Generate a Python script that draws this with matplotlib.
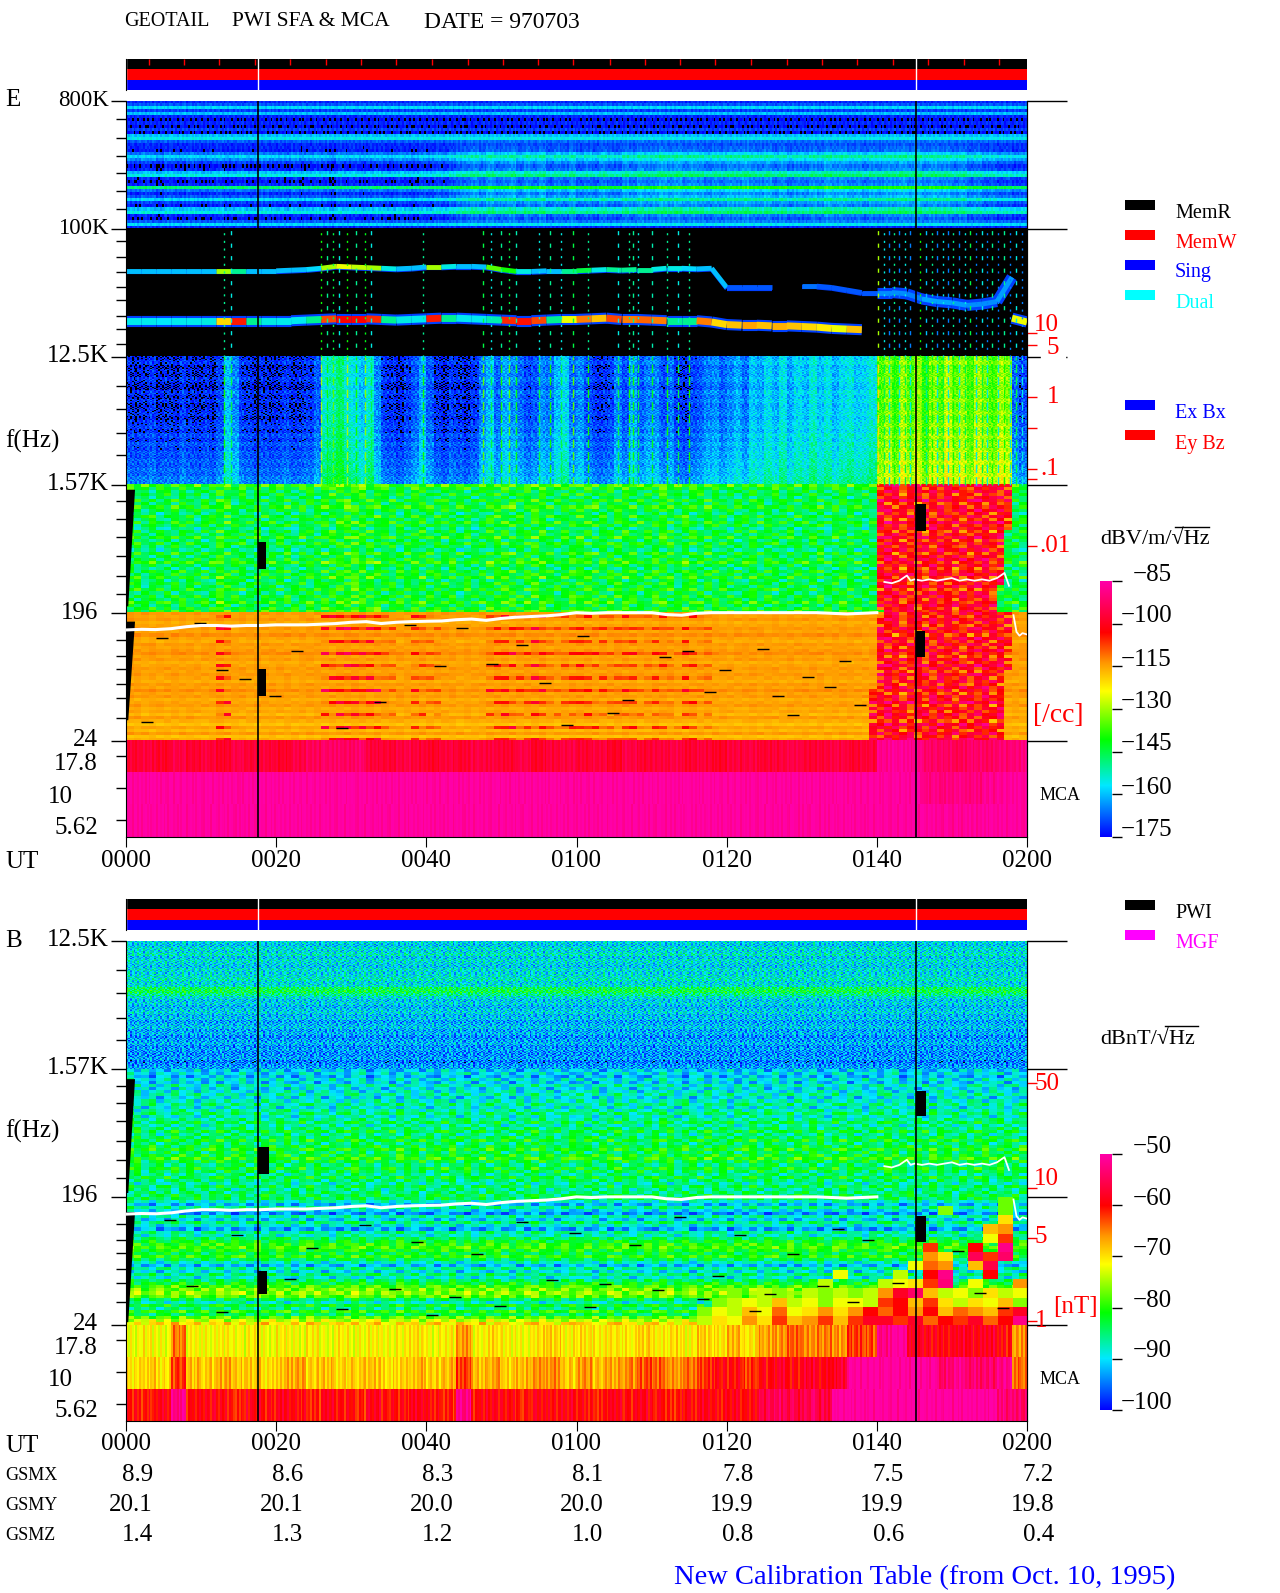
import numpy as np
import matplotlib
matplotlib.use("Agg")
import matplotlib.pyplot as plt
from matplotlib.collections import LineCollection
from matplotlib.colors import LinearSegmentedColormap

plt.rcParams['font.family'] = ['Liberation Serif', 'DejaVu Sans']
n = np.nan

W, H = 1280, 1593
PLOT_L, PLOT_R = 126, 1027
FS = 18

# time axis
time_ticks = [0, 20, 40, 60, 80, 100, 120]
time_labels = ['0000', '0020', '0040', '0100', '0120', '0140', '0200']
gsmx = ['8.9', '8.6', '8.3', '8.1', '7.8', '7.5', '7.2']
gsmy = ['20.1', '20.1', '20.0', '20.0', '19.9', '19.9', '19.8']
gsmz = ['1.4', '1.3', '1.2', '1.0', '0.8', '0.6', '0.4']
gap_times = [0, 17.6, 105.2]

# frequency ticks, in decades of 8 above 24 Hz
minor_upper = [4.852, 4.71, 4.564, 4.436, 4.29, 4.15, 3.9, 3.774, 3.662, 3.543, 3.44, 3.32, 3.216, 3.1]
minor_lower = [2.774, 2.592, 2.4, 2.23, 1.87, 1.73, 1.59, 1.44, 1.29, 1.145, .79, .66, .56, .44, .33, .18,
               -.12, -.37, -.617]
density_e = [3.185, 3.09, 2.686, 2.446, 2.125, 2.045, 1.523]
density_b = [1.89, 1.067, .677, .03]

# small scale mottling, estimated by eye
mott_a = [3,-4,6,-2,1,-6,4,0,-3,7,-5,2,-1,5,-7,3,0,-4,6,-2,4,-6,1,3,-5,7,-1,-3,5,-4,2,6,-7,0,4,-2,-5,3,1,-6,
          5,-3,7,-1,2,-4,0,6,-5,3,-2,4,-7,1,5,-3,0,6,-4,2]
mott_b = [-5,2,0,7,-3,4,-6,1,5,-2,-4,6,3,-7,1,4,-1,-5,2,7,-3,0,5,-6,2,-4,6,1,-2,-5,3,-1,4,7,-6,2,0,-3,5,-7,
          1,4,-2,6,-4,0,3,-5,7,-1,2,-6,4,0,-3,5,-2,1,-5,3]
mott_c = [1,6,-3,-5,4,0,2,-7,3,6,-1,-4,5,0,-2,7,-6,3,1,-3,-5,4,6,-1,0,-7,3,5,-4,2,-6,1,4,-2,7,-3,0,5,-5,2,
          -1,6,-4,3,-6,1,7,-2,0,-5,4,-3,6,2,-7,0,3,-1,5,-4]

# E panel, 800K-100K
hf_rows = [-172,-168,-158,-170,-160,-172,-174,-172,-174,-170,-174,-160,-156,-168,-172,-172,-173,-166,-158,-164,-170,
           -174,-172,-160,-155,-172,-174,-172,-148,-166,-172,-168,-158,-170,-173,-160,-155,-172,-174,-168,-158,-172]
hf_fade = [0,0,0,0,0,0,0,0,0,0,0,0,0,.2,.4,.6,.8,1,1,1,1,1,1,1,1,1,1,1,1,1,1,1,1,1,1,1,1,.9,.8,.4,.2,0]
hf_lift = [0,-1,1,0,-2,1,0,-1,1,0,-1,0,1,-1,0,1,-1,0,1,0,0,-1,1,-1,0,1,0,-2,1,0,1,-1,0,1,0,-1,1,0,-1,1,
           0,2,1,3,5,6,8,5,9,6,7,9,5,8,6,9,4,7,5,8,4,6,4,7,5,4,8,6,9,7,8,10,8,10,7,9,8,6,8,7,
           9,8,10,8,7,9,6,8,5,7,6,8,7,10,8,9,7,8,6,8,7,9,8,10,8,10,7,9,8,8,6,8,4,6,3,4,2,3,1,2]

# E panel, 100K-12.5K, emission lines every 2 min
line_t = list(range(0, 122, 2))
upper_pos = [3.67,3.67,3.67,3.67,3.67,3.67,3.67,3.67,3.67,3.67,3.67,3.675,3.68,3.69,3.705,3.7,3.695,3.69,3.685,3.69,
             3.7,3.7,3.705,3.705,3.7,3.68,3.665,3.665,3.67,3.67,3.67,3.675,3.68,3.675,3.68,3.68,3.69,3.69,3.685,3.69,
             3.54,3.54,3.54,3.54,n,3.55,3.55,3.54,3.52,3.5,3.5,3.5,3.49,3.45,3.43,3.42,3.4,3.41,3.43,3.62,n]
upper_db = [-160,-160,-160,-160,-160,-160,-130,-150,-160,-160,-160,-160,-158,-130,-125,-128,-130,-155,-160,-160,
            -130,-155,-160,-160,-135,-140,-155,-160,-160,-150,-145,-155,-150,-150,-150,-155,-155,-158,-160,-160,
            -168,-168,-168,-168,n,-166,-168,-168,-168,-168,-164,-164,-165,-162,-162,-163,-164,-164,-163,-156,n]
lower_pos = [3.28,3.28,3.28,3.28,3.28,3.28,3.28,3.28,3.28,3.28,3.28,3.28,3.285,3.29,3.295,3.295,3.295,3.29,3.285,3.29,
             3.295,3.3,3.3,3.295,3.29,3.285,3.28,3.28,3.285,3.29,3.29,3.295,3.3,3.29,3.29,3.285,3.28,3.28,3.28,3.27,
             3.25,3.245,3.245,3.24,3.24,3.235,3.23,3.22,3.215,3.21,n,n,n,n,n,n,n,n,n,3.3,3.27]
lower_db = [-156,-156,-157,-156,-156,-155,-120,-105,-150,-155,-156,-156,-150,-108,-103,-103,-106,-150,-155,-156,
            -105,-150,-156,-156,-152,-106,-104,-108,-150,-125,-112,-118,-108,-112,-110,-112,-150,-150,-112,-120,
            -118,-115,-118,-116,-118,-120,-122,-125,-118,-125,n,n,n,n,n,n,n,n,n,-125,-130]

# vertical bursts through the 100K-12.5K band
burst_t = [13,14,26,26.8,27.6,28.4,29.5,30.6,31.8,32.6,39.5,47.5,48.6,50,51,52,55,56.5,58,59.5,61.5,65.5,67,67.5,68.2,
           70,72,73.5,75,100.2,101,101.6,102.3,103,103.7,104.4,105.8,106.6,107.3,108,108.8,109.5,110.1,111,111.7,
           112.4,113.2,114,114.7,115.4,116.1,117,117.8,118.6,119.3]
burst_db = [-150,-155,-140,-150,-145,-155,-140,-150,-142,-155,-150,-145,-155,-150,-145,-152,-155,-150,-155,-145,-150,
            -155,-150,-150,-155,-152,-150,-155,-150,-130,-155,-165,-150,-165,-155,-165,-140,-160,-150,-165,-155,-165,
            -150,-165,-155,-145,-165,-155,-165,-150,-165,-150,-165,-155,-165]

# E panel, 12.5K-1.57K
low_rows = [-3,-1,-4,-2,-3,-1,-3,-4,-1,-3,-1,-3,-2,-1,-3,-1,0,-2,1,-1,2,0,2,1,3,2,4,3,5,5]
low_activity = [-170,-171,-170,-169,-171,-170,-171,-169,-170,-171,-170,-171,-168,-158,-162,-169,-170,-171,-170,-171,
                -170,-169,-171,-170,-169,-166,-152,-150,-146,-152,-154,-158,-152,-162,-169,-170,-171,-169,-166,-160,
                -166,-170,-171,-169,-170,-171,-169,-163,-158,-165,-160,-162,-164,-168,-166,-162,-164,-158,-155,-165,
                -162,-167,-169,-170,-168,-163,-167,-160,-166,-163,-162,-167,-164,-169,-170,-168,-166,-163,-162,-165,
                -162,-160,-164,-157,-160,-155,-159,-154,-160,-155,-158,-153,-157,-154,-159,-155,-153,-157,-155,-153,
                -134,-130,-136,-128,-134,-130,-137,-130,-133,-127,-132,-129,-135,-128,-131,-134,-128,-130,-165,-168]

# E panel, 1.57K-196 and 196-24
green_rows = [-138,-142,-146,-144,-148,-143,-146,-141,-145,-149,-143,-147,-142,-145,-150,-144,-146,-141,-148,-143,-146,
              -150,-142,-147,-144,-140,-146,-149,-143,-145,-141,-148,-144,-146,-142,-147,-143,-145,-140,-146,-143,-141]
orange_rows = [-114,-115,-114,-116,-115,-114,-115,-113,-115,-116,-114,-115,-114,-113,-115,-114,-116,-115,-114,-115,-114,
               -115,-116,-114,-115,-113,-115,-114,-116,-115,-114,-116,-115,-117,-114,-116,-118,-115,-117,-114,-118,-116]
red_rows = [-98,-104,-100,-106,-102,-97,-108,-103,-99,-105,-101,-107,-96,-104,-100,-108,-103,-98,-106,-101,-104,
            -99,-107,-102,-97,-105,-100,-108,-103,-99,-106,-101,-104,-98,-108,-102,-100,-106,-103,-99,-105,-101]
orange_burst = [0,0,0,0,0,0,10,0,0,0,0,0,0,12,14,10,12,4,0,8,4,0,0,0,8,10,6,10,4,6,8,6,4,8,4,6,3,8,3,0,
                0,0,0,0,0,0,0,0,0,0,0,0,0,0,0,0,0,0,0,0]

# E panel MCA channels, every 2 min
e_mca1 = [-98,-97,-99,-96,-98,-97,-99,-96,-98,-97,-99,-96,-94,-92,-93,-92,-97,-98,-96,-97,-99,-97,-98,-96,-97,-98,
          -96,-99,-97,-96,-98,-97,-99,-96,-98,-97,-96,-98,-97,-99,-97,-96,-98,-97,-96,-98,-97,-96,-98,-97,-88,-87,
          -88,-92,-93,-94,-92,-93,-91,-90]
e_mca2 = [-86,-86,-86,-86,-86,-86,-86,-86,-86,-86,-86,-86,-86,-86,-86,-86,-86,-86,-86,-86,-86,-86,-86,-86,-86,-86,
          -86,-86,-86,-86,-86,-86,-86,-86,-86,-86,-86,-86,-86,-86,-86,-86,-86,-86,-86,-86,-86,-86,-86,-86,-86,-86,
          -86,-89,-90,-89,-90,-88,-87,-86]
e_mca3 = [-86,-86,-86,-86,-86,-86,-86,-86,-86,-86,-86,-86,-86,-86,-86,-86,-86,-86,-86,-86,-86,-86,-86,-86,-86,-86,
          -86,-86,-86,-86,-86,-86,-86,-86,-86,-86,-86,-86,-86,-86,-86,-86,-86,-86,-86,-86,-86,-86,-86,-86,-86,-86,
          -86,-86,-87,-87,-87,-86,-86,-86]

# B panel
b_hf_rows = [-90,-91,-89,-90,-88,-91,-89,-90,-91,-89,-90,-89,-88,-90,-89,-84,-83,-86,-89,-91,-90,-92,-91,-90,-92,
             -91,-93,-92,-91,-93,-92,-94,-93,-92,-94,-93,-94,-94,-93,-95,-94,-93]
b_mid_rows = [-91,-90,-92,-89,-91,-88,-90,-89,-87,-90,-88,-86,-89,-87,-85,-88,-86,-84,-87,-85,-83,-86,-84,-82,-85,
              -83,-81,-84,-82,-80,-83,-85,-82,-84,-86,-83,-85,-87,-84,-86,-85,-84]
b_low_rows = [-84,-88,-92,-86,-90,-94,-87,-91,-85,-89,-93,-86,-88,-84,-82,-80,-79,-81,-83,-80,-84,-88,-92,-86,-90,-85,
              -89,-84,-82,-79,-77,-76,-78,-84,-88,-82,-86,-80,-84,-78,-74,-70]
b_hot = [[n]*28 + [-77, n],
         [n]*24 + [-76, n, n, n, -77, n],
         [n]*28 + [-70, n],
         [n]*27 + [-68, -66, n],
         [n]*27 + [-72, -62, n],
         [n]*23 + [-62, n, n, -60, n, -52, n],
         [n]*23 + [-66, -70, n, -55, -62, -54, n],
         [n]*22 + [-72, -64, -66, n, -68, -56, n, n],
         [n]*17 + [-72, n, n, n, -74, n, -60, -52, n, n, -60, n, n],
         [n]*16 + [-74, n, n, n, -74, -72, -70, -62, -53, n, -72, n, n, -66],
         [n]*10 + [-76,n,-74,-76,n,-74,-76,-74,-76,-74,-66,-58,-54,-68,-74,-72,-76,-70,-74,-72],
         [n]*9 + [-76,-74,-72,-74,-68,-74,-72,-76,-72,-72,-74,-62,-60,-68,-62,-70,-74,-70,-72,-68,-76],
         [n]*8 + [-76,-72,-74,-68,-72,-64,-72,-70,-66,-70,-66,-60,-64,-60,-66,-60,-68,-64,-66,-68,-62,-58],
         [n]*8 + [-74,-70,-72,-66,-70,-62,-68,-66,-62,-68,-62,-58,-58,-62,-58,-64,-60,-62,-58,-64,-60,-52]]
b_mca1 = [-72,-71,-72,-65,-71,-72,-71,-72,-71,-72,-71,-72,-71,-72,-71,-72,-71,-72,-71,-70,-72,-71,-66,-71,-70,-71,-72,
          -70,-69,-71,-70,-71,-70,-71,-69,-71,-70,-71,-69,-70,-68,-70,-67,-66,-64,-66,-65,-66,-62,-63,-52,-50,-58,-59,
          -60,-58,-59,-58,-60,-66]
b_mca2 = [-70,-69,-70,-62,-68,-69,-67,-68,-69,-70,-68,-67,-69,-68,-70,-69,-68,-70,-69,-68,-69,-68,-62,-68,-67,-69,-68,
          -66,-66,-69,-66,-68,-67,-66,-63,-64,-66,-65,-62,-60,-60,-62,-60,-58,-60,-58,-59,-58,-50,-50,-50,-50,-50,-50,
          -54,-52,-54,-54,-52,-64]
b_mca3 = [-60,-61,-59,-52,-60,-59,-60,-61,-59,-60,-59,-60,-61,-59,-60,-61,-59,-60,-60,-59,-60,-61,-52,-60,-59,-60,-61,
          -59,-60,-59,-60,-61,-59,-60,-59,-60,-61,-60,-59,-60,-59,-60,-56,-55,-56,-55,-56,-50,-50,-50,-50,-50,-50,-50,
          -50,-50,-50,-50,-53,-54]

# white trace, same on both panels
trace_t = list(range(0, 102, 2))
trace_pos = [.865,.87,.868,.875,.89,.9,.9,.895,.9,.9,.905,.905,.905,.91,.915,.925,.93,.915,.925,.93,.933,.935,.945,.95,
             .94,.955,.965,.97,.975,.985,1.0,.995,1.0,1.0,1.0,1.0,.985,.98,.995,1.0,1.0,1.0,1.0,1.0,1.0,1.0,1.0,.995,
             .99,.995,1.0]
trace2_t = [101,102,103,104,104.5,105,106,107,108,109,110,111,112,113,114,115,116,117,117.6]
trace2_pos = [1.24,1.23,1.25,1.29,1.25,1.26,1.25,1.26,1.25,1.26,1.27,1.25,1.26,1.25,1.26,1.25,1.27,1.31,1.21]
trace3_t = [118.2, 118.6, 119, 119.4, 120]
trace3_pos = [.98, .85, .82, .84, .83]

# black data gaps, time span and y span
gap_e = [(17.6, 18.7, 1.34, 1.55), (17.6, 18.6, .35, .56), (105.2, 106.5, 1.64, 1.85), (105.2, 106.4, .65, .86)]
gap_b = [(17.6, 19.0, 1.18, 1.39), (17.6, 18.8, .24, .42), (105.2, 106.6, 1.63, 1.83), (105.2, 106.5, .65, .85)]
dash_e_t = [4,12,22,33,37,48,55,60,64,71,77,84,90,93,97,2,9,19,28,41,52,66,79,88,95,15,44,58,74,86]
dash_e_y = [.8,.55,.7,.3,.9,.6,.45,.82,.22,.65,.38,.72,.5,.42,.28,.15,.92,.35,.1,.58,.75,.32,.55,.2,.62,.48,.88,.12,.7,.35]
dash_b_t = [5,14,24,31,38,46,52,59,67,73,81,88,94,98,110,8,21,35,43,56,63,70,78,85,92,102,113,28,49,76,96,12,40,61,
            83,116]
dash_b_y = [.82,.7,.6,.78,.65,.55,.8,.72,.62,.84,.7,.55,.75,.66,.58,.3,.36,.28,.22,.35,.32,.27,.38,.24,.3,.33,.25,.12,
            .15,.2,.18,.1,.08,.14,.11,.13]

status_ticks = [3.0,7.7,12.4,17.2,21.9,26.6,31.3,36.0,40.8,45.5,50.2,54.9,59.6,64.4,69.1,73.8,78.5,83.2,88.0,92.7,
                97.4,102.1,106.8,111.6,116.3]
status_colors = ['#0000ff', '#ff0000', '#000000']

cmap = LinearSegmentedColormap.from_list('pwi', [(0, '#0000ff'), (.2, '#00e8ff'), (.38, '#00ff00'), (.57, '#ffff00'),
                                                 (.68, '#ff9800'), (.8, '#ff0000'), (1, '#ff00a8')])
cmap.set_under('black')
cmap.set_bad((0, 0, 0, 0))


def px_axes(left, top, right, bottom):
    return fig.add_axes([left / W, 1 - bottom / H, (right - left) / W, (bottom - top) / H])


def texture(n_rows, k):
    profiles = [mott_a, mott_b, mott_c]
    out = []
    for i in range(n_rows):
        out.append(np.concatenate([np.roll(profiles[i % 3], i * i * 7 + i * 5 + j * 11) for j in range(k)]))
    return np.array(out, dtype=float)


def band(rows, k, scale):
    rows = np.array(rows, dtype=float)
    return rows[:, None] + scale * texture(len(rows), k)


def show(ax, z, top, bottom, vmin, vmax, t0=0, t1=120):
    ax.imshow(z, extent=(t0, t1, bottom, top), aspect='auto', cmap=cmap, vmin=vmin, vmax=vmax,
              interpolation='nearest', origin='upper')


def block(rows, left, right):
    z = band(rows, 2, 1.5)
    for i in range(z.shape[0]):
        f = i / (z.shape[0] - 1)
        a, b = left[0] + (left[1] - left[0]) * f, right[0] + (right[1] - right[0]) * f
        z[i, :int(a)] = n
        z[i, int(b):] = n
    return z


def mca(ax, channels, vmin, vmax, scale):
    for i, ch in enumerate(channels):
        z = np.repeat(np.array(ch, dtype=float), 8)[None, :] + scale * texture(i + 1, 8)[i:i + 1]
        show(ax, z, -.25 * i, -.25 * (i + 1), vmin, vmax)


def line_band(ax, t, pos, db, lw, vmin, vmax):
    pts = np.column_stack([t, pos])
    segs = np.stack([pts[:-1], pts[1:]], axis=1)
    lc = LineCollection(segs, cmap=cmap, linewidths=lw, capstyle='butt')
    lc.set_array(np.array(db, dtype=float)[:-1])
    lc.set_clim(vmin, vmax)
    ax.add_collection(lc)


def finish(ax, top, majors, minors, density):
    ax.plot(trace_t, trace_pos, color='white', lw=2.2, zorder=5)
    ax.plot(trace2_t, trace2_pos, color='white', lw=1.3, zorder=5)
    ax.plot(trace3_t, trace3_pos, color='white', lw=1.3, zorder=5)
    ax.set_xlim(0, 120)
    ax.set_ylim(-.752, top)
    ax.axvline(gap_times[1], color='black', lw=1.2, zorder=6)
    ax.axvline(gap_times[2], color='black', lw=1.2, zorder=6)
    ax.set_xticks(time_ticks)
    ax.set_xticklabels(time_labels, fontsize=FS)
    ax.tick_params(axis='x', length=7, pad=2)
    ax.set_yticks(majors)
    ax.set_yticklabels([])
    ax.set_yticks(minors, minor=True)
    ax.tick_params(axis='y', which='major', length=11, width=1)
    ax.tick_params(axis='y', which='minor', length=7, width=1)
    ax.spines['top'].set_visible(False)
    right = ax.secondary_yaxis('right')
    right.set_yticks(majors)
    right.set_yticklabels([])
    right.tick_params(length=29, width=1)
    red = ax.secondary_yaxis('right')
    red.set_yticks(density)
    red.set_yticklabels([])
    red.tick_params(length=7, width=1, color='red')
    red.spines['right'].set_visible(False)


def status(ax, marks):
    ax.barh([0, 1, 2], [120, 120, 120], height=1, color=status_colors)
    ax.set_xlim(0, 120)
    ax.set_ylim(-.5, 2.5)
    for t in gap_times:
        ax.plot([t, t], [-.5, 2.5], color='white', lw=1)
    if marks:
        ax.vlines(status_ticks, 1.9, 2.5, color='#ff0000', lw=1)
    ax.set_xticks([])
    ax.set_yticks([])
    for s in ['top', 'right', 'bottom']:
        ax.spines[s].set_visible(False)


def wedge(ax, y0, y1):
    ax.fill([0, 1.2, .3, 0], [y1, y1, y0, y0], color='black', lw=0, zorder=4)


fig = plt.figure(figsize=(W / 100, H / 100), dpi=100)

# E panel
status(px_axes(PLOT_L, 59, PLOT_R, 90), True)
ax = px_axes(PLOT_L, 100.5, PLOT_R, 837)

z = np.array(hf_rows, dtype=float)[:, None] + np.outer(hf_fade, np.repeat(hf_lift, 4)) + .35 * texture(42, 8)
show(ax, z, 5, 4, -175, -85)
show(ax, np.full((1, 1), -200.0), 4, 3, -175, -85)
line_band(ax, line_t[50:], upper_pos[50:], [-170] * 11, 8, -175, -85)
line_band(ax, line_t, np.array(upper_pos) - .01, [-170 if v == v else n for v in upper_db], 3, -175, -85)
line_band(ax, line_t, upper_pos, upper_db, 3.5, -175, -85)
line_band(ax, line_t, lower_pos, [-170 if v == v else n for v in lower_db], 8, -175, -85)
line_band(ax, line_t, lower_pos, lower_db, 5, -175, -85)
burst_rgb = cmap((np.array(burst_db) + 175) / 90)
ax.vlines(burst_t[::2], 3, 4, colors=burst_rgb[::2], lw=1, linestyles=(0, (1.5, 4)), zorder=3)
ax.vlines(burst_t[1::2], 3, 4, colors=burst_rgb[1::2], lw=1, linestyles=(2, (3, 6)), zorder=3)

z = np.repeat(low_activity, 4)[None, :] + np.repeat(low_rows, 4)[:, None] + .7 * texture(120, 8)
show(ax, z, 3, 2, -175, -85)
# finer streaks on top of the 1 min columns
streak_rgb = cmap((np.array(burst_db) + 185) / 90)
ax.vlines(burst_t, 2, 3, colors=streak_rgb, lw=1, linestyles=(0, (6, 3)), zorder=3)

z = band(green_rows, 2, 1.2) + np.repeat(orange_burst, 2)[None, :] * .3
show(ax, z, 2, 1, -175, -85)
z = band(orange_rows, 2, .15)
for i in range(z.shape[0]):
    if i % 4 == 1:
        z[i] += np.repeat(orange_burst, 2) * (1 + .1 * texture(i + 1, 2)[i])
show(ax, z, 1, 0, -175, -85)
show(ax, block(red_rows, (100.4, 101), (118.8, 116.5)), 2, 1, -175, -85)
show(ax, block(red_rows[::-1], (101, 99.3), (118.8, 117)), 1, 0, -175, -85)
mca(ax, [e_mca1, e_mca2, e_mca3], -175, -85, .4)

for t0, t1, y0, y1 in gap_e:
    ax.fill_between([t0, t1], y0, y1, color='black', lw=0, zorder=4)
wedge(ax, 1.05, 1.96)
wedge(ax, .16, .93)
ax.hlines(dash_e_y, dash_e_t, np.array(dash_e_t) + 1.6, color='black', lw=1, zorder=3)
finish(ax, 5, [5, 4, 3, 2, 1, 0], minor_upper + minor_lower, density_e)

# B panel
status(px_axes(PLOT_L, 899, PLOT_R, 930), False)
bx = px_axes(PLOT_L, 941, PLOT_R, 1421)
show(bx, band(np.repeat(b_hf_rows, 3), 8, .8), 3, 2, -100, -50)
show(bx, band(b_mid_rows, 2, .7), 2, 1, -100, -50)
show(bx, band(b_low_rows, 2, .6), 1, 0, -100, -50)
show(bx, np.array(b_hot, dtype=float), 1, 0, -100, -50, t0=60, t1=120)
mca(bx, [b_mca1, b_mca2, b_mca3], -100, -50, .4)
for t0, t1, y0, y1 in gap_b:
    bx.fill_between([t0, t1], y0, y1, color='black', lw=0, zorder=4)
wedge(bx, 1.03, 1.92)
wedge(bx, .02, .88)
bx.hlines(dash_b_y, dash_b_t, np.array(dash_b_t) + 1.6, color='black', lw=1, zorder=3)
finish(bx, 3, [3, 2, 1, 0], minor_lower, density_b)

# colour bars
for top, bottom, vmin, vmax, ticks in [(581, 837, -175, -85, [-175, -160, -145, -130, -115, -100, -85]),
                                       (1154, 1410, -100, -50, [-100, -90, -80, -70, -60, -50])]:
    cax = px_axes(1100, top, 1112, bottom)
    cb = fig.colorbar(plt.cm.ScalarMappable(plt.Normalize(vmin, vmax), cmap), cax=cax)
    cb.set_ticks(ticks)
    cb.set_ticklabels([])
    cb.ax.tick_params(length=7, width=1)
    cb.outline.set_visible(False)

# texts and legends in pixels
bg = fig.add_axes([0, 0, 1, 1], zorder=10)
bg.set_xlim(0, W)
bg.set_ylim(H, 0)
bg.axis('off')
bg.patch.set_alpha(0)


def text(x, y, s, color='black', ha='left', size=FS, **kw):
    bg.text(x, y + 2, s, color=color, ha=ha, va='center', fontsize=size, **kw)


def tx(t):
    return PLOT_L + (PLOT_R - PLOT_L) * t / 120


text(124, 20, 'GEOTAIL', size=14.5)
text(232, 20, 'PWI SFA & MCA', size=15.5)
text(424, 20, 'DATE = 970703', size=17)

text(5, 98, 'E')
text(5, 939, 'B')
text(5, 439, 'f(Hz)')
text(5, 1129, 'f(Hz)')
for y, s, x, size in [(98, '800K', 109, 16.5), (226, '100K', 109, 16.5), (354, '12.5K', 109, FS), (482, '1.57K', 109, FS),
                      (611, '196', 98, FS), (738, '24', 98, FS), (762, '17.8', 98, FS), (795, '10', 73, FS),
                      (826, '5.62', 98, FS), (938, '12.5K', 109, FS), (1066, '1.57K', 109, FS), (1194, '196', 98, FS),
                      (1322, '24', 98, FS), (1346, '17.8', 98, FS), (1378, '10', 73, FS), (1409, '5.62', 98, FS)]:
    text(x, y, s, ha='right', size=size)

text(5, 860, 'UT')
text(5, 1444, 'UT')
text(5, 1473, 'GSMX', size=13)
text(5, 1503, 'GSMY', size=13)
text(5, 1533, 'GSMZ', size=13)
for t, a, b, c in zip(time_ticks, gsmx, gsmy, gsmz):
    text(tx(t) + 27, 1473, a, ha='right')
    text(tx(t) + 27, 1503, b, ha='right')
    text(tx(t) + 27, 1533, c, ha='right')

for y, s in [(323, '10'), (395, '1'), (467, '.1')]:
    text(1059, y, s, color='red', ha='right')
text(1071, 544, '.01', color='red', ha='right')
text(1059, 346, '5', color='red', ha='right', backgroundcolor='white')
text(1033, 713, '[/cc]', color='red', size=20)
text(1040, 794, 'MCA', size=13)
for y, s in [(1082, '50'), (1177, '10'), (1235, '5'), (1319, '1')]:
    text(1059 if s in ('50', '10') else 1047, y, s, color='red', ha='right')
text(1053, 1305, '[nT]', color='red')
text(1040, 1378, 'MCA', size=13)

for y, col, ty, s in [(205, 'black', 211, 'MemR'), (234.5, '#ff0000', 241, 'MemW'), (265, '#0000ff', 271, 'Sing'),
                      (295, '#00ffff', 301, 'Dual'), (404.5, '#0000ff', 412, 'Ex Bx'), (434.5, '#ff0000', 442, 'Ey Bz'),
                      (905, 'black', 911, 'PWI'), (934.5, '#ff00ff', 941, 'MGF')]:
    bg.fill_between([1125, 1155], y - 5, y + 5, color=col, lw=0)
    text(1175, ty, s, color=col, size=14.5)

text(1100, 537, 'dBV/m/√Hz', size=16)
bg.plot([1175, 1209], [527, 527], color='black', lw=1)
text(1100, 1038, 'dBnT/√Hz', size=16)
bg.plot([1165, 1198], [1026, 1026], color='black', lw=1)

for y, s in [(573, '−85'), (614, '−100'), (658, '−115'), (700, '−130'), (742, '−145'), (786, '−160'), (828, '−175')]:
    text(1172, y, s, ha='right')
for y, s in [(1145, '−50'), (1197, '−60'), (1247, '−70'), (1299, '−80'), (1349, '−90'), (1401, '−100')]:
    text(1172, y, s, ha='right')

text(674, 1576, 'New Calibration Table (from Oct. 10, 1995)', color='#0000ff', size=20.5)

fig.savefig('out.png', dpi=100)
